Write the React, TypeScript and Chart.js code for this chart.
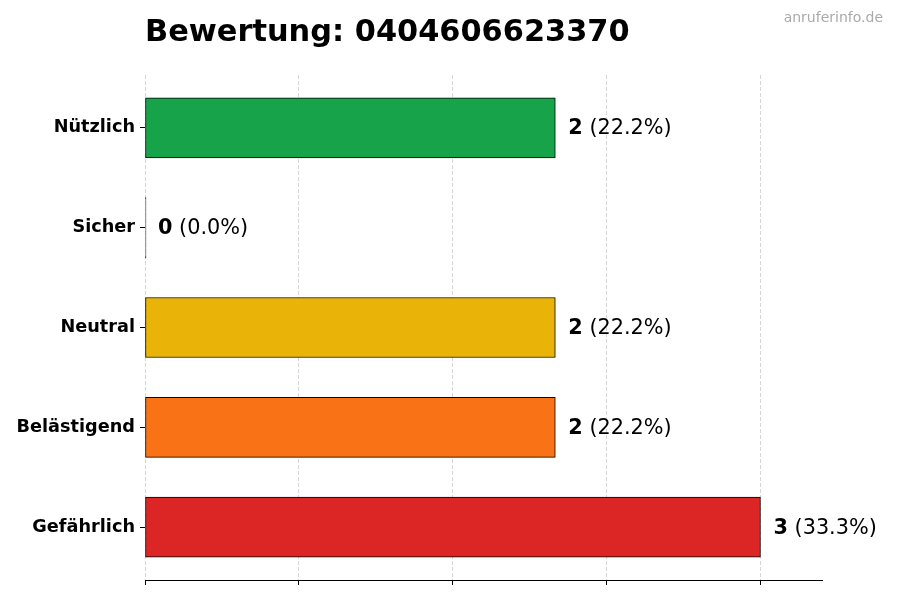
import { useEffect, useRef } from 'react';
import Chart from 'chart.js/auto';

const categories = ['Nützlich', 'Sicher', 'Neutral', 'Belästigend', 'Gefährlich'];
const counts = [2, 0, 2, 2, 3];
const barColors = ['#16A34A', '#3B82F6', '#EAB308', '#F97316', '#DC2626'];
const xTickValues = [0, 0.75, 1.5, 2.25, 3];
const title = 'Bewertung: 0404606623370';
const watermark = 'anruferinfo.de';

const FONT = '"DejaVu Sans", sans-serif';

const textPlugin = {
  id: 'textPlugin',
  afterDraw(chart: any) {
    const { ctx } = chart;
    const xs = chart.scales.x;
    const ys = chart.scales.y;
    const total = counts.reduce((a, b) => a + b, 0);
    ctx.save();

    // title + watermark
    ctx.fillStyle = '#000';
    ctx.textBaseline = 'alphabetic';
    ctx.textAlign = 'left';
    ctx.font = `bold 30.4px ${FONT}`;
    ctx.fillText(title, chart.chartArea.left, 41);
    ctx.fillStyle = '#aaaaaa';
    ctx.textAlign = 'right';
    ctx.font = `14px ${FONT}`;
    ctx.fillText(watermark, 883, 22);

    // value labels
    ctx.textAlign = 'left';
    ctx.textBaseline = 'middle';
    counts.forEach((v, i) => {
      const x = xs.getPixelForValue(v) + 13;
      const y = ys.getPixelForValue(i) + 1;
      const pct = total > 0 ? ((v / total) * 100).toFixed(1) : '0.0';
      ctx.fillStyle = '#000';
      ctx.font = `bold 20.8px ${FONT}`;
      const bold = String(v);
      ctx.fillText(bold, x, y);
      const w = ctx.measureText(bold).width;
      ctx.font = `20.8px ${FONT}`;
      ctx.fillText(` (${pct}%)`, x + w, y);
    });
    ctx.restore();
  },
};

export default function App() {
  const canvasRef = useRef<HTMLCanvasElement>(null);

  useEffect(() => {
    document.body.style.margin = '0';
    if (!canvasRef.current) return;
    const chart = new Chart(canvasRef.current, {
      type: 'bar',
      data: {
        datasets: [
          {
            data: counts.map((v, i) => ({ x: v, y: i })),
            backgroundColor: barColors,
            borderColor: '#000000',
            borderWidth: 1,
            borderSkipped: false,
            barThickness: 60,
            minBarLength: 1,
          },
        ],
      },
      options: {
        indexAxis: 'y',
        responsive: false,
        animation: false,
        layout: { padding: { top: 75, right: 78, left: 0, bottom: 0 } },
        plugins: {
          legend: { display: false },
          tooltip: { enabled: false },
          title: { display: false },
        },
        scales: {
          x: {
            type: 'linear',
            min: 0,
            max: 3.3,
            z: 1,
            afterBuildTicks: (s: any) => {
              s.ticks = xTickValues.map((value) => ({ value }));
            },
            afterFit: (s: any) => {
              s.height = 20;
            },
            ticks: { display: false },
            grid: {
              color: 'rgba(0,0,0,0.16)',
              lineWidth: 1,
              drawTicks: true,
              tickLength: 5,
              tickColor: '#000',
              tickWidth: 1,
            },
            border: { display: true, color: '#000', width: 1, dash: [4, 2] },
          },
          y: {
            type: 'linear',
            min: -0.53,
            max: 4.53,
            reverse: true,
            offset: false,
            afterBuildTicks: (s: any) => {
              s.ticks = categories.map((_, i) => ({ value: i }));
            },
            afterFit: (s: any) => {
              s.width = 145;
            },
            ticks: {
              callback: (v: any) => categories[v as number] ?? '',
              color: '#000',
              font: { family: FONT, size: 17.7, weight: 'bold' },
              padding: 5,
              autoSkip: false,
            },
            grid: {
              display: true,
              offset: false,
              drawOnChartArea: false,
              drawTicks: true,
              tickLength: 5,
              tickColor: '#000',
              tickWidth: 1,
            },
            border: { display: false },
          },
        },
      },
      plugins: [textPlugin],
    });
    return () => chart.destroy();
  }, []);

  return <canvas ref={canvasRef} width={900} height={600} style={{ display: 'block' }} />;
}
